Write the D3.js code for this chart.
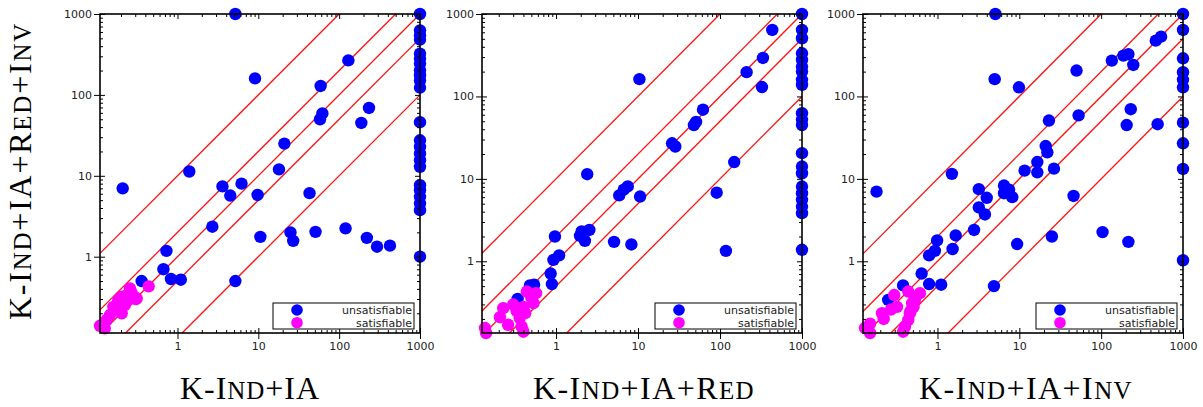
<!DOCTYPE html>
<html>
<head>
<meta charset="utf-8">
<script src="https://cdn.jsdelivr.net/npm/d3@7"></script>
<style>
body { margin: 0; background: #fff; }
</style>
</head>
<body>
<script>
// run times in seconds, [x, y]; x = 1000 means timeout of the x solver
var unsatIA = [[5.2, 1000], [9.1, 160], [130, 267], [59, 129], [62, 59], [58, 50], [234, 69], [188, 45],
    [21, 25], [18, 12], [1.4, 11.3], [0.21, 7.0], [3.6, 7.4], [6.2, 8.0], [4.5, 5.7], [9.8, 5.8], [43, 6.1],
    [2.7, 2.35], [10.6, 1.76], [25, 2.0], [27, 1.57], [51, 2.03], [120, 2.24], [220, 1.71], [294, 1.33],
    [425, 1.37], [0.73, 1.18], [0.67, 0.70], [0.36, 0.50], [0.83, 0.53], [1.1, 0.52], [5.2, 0.50],
    [1000, 1000], [1000, 628], [1000, 545], [1000, 482], [1000, 324], [1000, 281], [1000, 244], [1000, 201],
    [1000, 175], [1000, 151], [1000, 123], [1000, 46], [1000, 27.5], [1000, 22.7], [1000, 18.9], [1000, 15.6],
    [1000, 12.9], [1000, 7.66], [1000, 6.64], [1000, 5.5], [1000, 4.55], [1000, 3.76], [1000, 1.0]
]
var satIA = [[0.44, 0.43], [0.258, 0.406], [0.204, 0.32], [0.246, 0.29], [0.313, 0.305], [0.161, 0.24],
    [0.204, 0.20], [0.146, 0.19], [0.224, 0.253], [0.133, 0.165], [0.11, 0.14], [0.126, 0.13], [0.185, 0.29],
    [0.27, 0.36], [0.23, 0.33], [0.19, 0.22], [0.29, 0.32], [0.306, 0.30], [0.12, 0.136]
]

var unsatRed = [[10.4, 162], [434, 640], [334, 293], [211, 197], [325, 130], [62, 69], [51, 49], [48, 45],
    [26, 27], [28.5, 24.7], [149, 16], [2.4, 11.4], [91, 6.8], [7.5, 8.1], [6.7, 7.4], [5.9, 6.3], [10.6, 6.1],
    [0.97, 2.0], [2.05, 2.3], [1.96, 2.04], [2.55, 2.4], [2.25, 1.77], [5.1, 1.72], [8.3, 1.6], [1.09, 1.18],
    [0.93, 1.04], [0.86, 0.71], [0.89, 0.53], [0.54, 0.52], [0.48, 0.51], [0.34, 0.35], [118, 1.34],
    [1000, 1000], [1000, 640], [1000, 508], [1000, 334], [1000, 277], [1000, 230], [1000, 200], [1000, 159],
    [1000, 138], [1000, 62.6], [1000, 52], [1000, 45], [1000, 20.5], [1000, 14.1], [1000, 11.7], [1000, 8.07],
    [1000, 6.7], [1000, 5.57], [1000, 4.62], [1000, 3.84], [1000, 1.38]
]
var satRed = [[0.44, 0.43], [0.57, 0.41], [0.53, 0.31], [0.42, 0.235], [0.30, 0.30], [0.227, 0.27],
    [0.207, 0.21], [0.26, 0.17], [0.36, 0.205], [0.38, 0.162], [0.40, 0.14], [0.136, 0.155], [0.14, 0.135],
    [0.50, 0.36], [0.33, 0.25], [0.40, 0.28]
]

var unsatInv = [[5.1, 1000], [5.0, 162], [9.9, 129], [50, 206], [135, 272], [187, 313], [215, 325], [247, 241],
    [465, 475], [540, 531], [53, 59], [23, 51], [230, 70], [205, 45], [490, 46], [21, 25], [22, 21], [16.6, 16],
    [16.6, 12], [11.6, 12.6], [26.5, 13.3], [1.5, 11.5], [0.18, 7.0], [3.2, 7.5], [6.5, 8.3], [7.5, 7.4],
    [6.5, 6.7], [4.0, 5.9], [8.2, 6.0], [46, 6.2], [3.2, 4.5], [3.8, 3.7], [2.8, 2.4], [1.67, 2.06],
    [0.99, 1.79], [0.93, 1.34], [0.79, 1.18], [1.53, 1.41], [9.4, 1.62], [0.64, 0.71], [0.38, 0.51],
    [0.79, 0.53], [1.11, 0.52], [4.9, 0.50], [0.25, 0.34], [25, 2.0], [104, 2.26], [215, 1.72],
    [1000, 1000], [1000, 640], [1000, 290], [1000, 197], [1000, 159], [1000, 129], [1000, 48], [1000, 27],
    [1000, 13.2], [1000, 1.03]
]
var satInv = [[0.296, 0.39], [0.44, 0.43], [0.61, 0.41], [0.53, 0.34], [0.51, 0.28], [0.46, 0.235],
    [0.44, 0.195], [0.40, 0.16], [0.38, 0.14], [0.32, 0.28], [0.27, 0.26], [0.21, 0.235], [0.22, 0.20],
    [0.15, 0.175], [0.13, 0.155], [0.15, 0.135], [0.49, 0.31], [0.47, 0.25]
]

var majorTicks = [1, 10, 100, 1000]
var ratios = [10, 2, 1, 0.5, 0.1]          // red guide lines y = k * x
var legendLabels = ["unsatisfiable", "satisfiable"]
var xTitles = ["K-Ind+IA", "K-Ind+IA+Red", "K-Ind+IA+Inv"]
var yTitle = "K-Ind+IA+Red+Inv"

const width = 1203
const height = 407
const plotTop = 14
const plotW = 320
const plotH = 319
const colors = ["#0000ff", "#ff00ff"]

var panels = [
    { left: 100, xmin: 0.11, ymin: 0.114, unsat: unsatIA, sat: satIA, tx: 250, tlen: 140 },
    { left: 482, xmin: 0.125, ymin: 0.135, unsat: unsatRed, sat: satRed, tx: 644, tlen: 222 },
    { left: 863, xmin: 0.123, ymin: 0.135, unsat: unsatInv, sat: satInv, tx: 1026, tlen: 214 }
]

var svg = d3.select("body").append("svg").attr("width", width).attr("height", height)

function isMajor(d) {
    var l = Math.log10(d)
    return Math.abs(l - Math.round(l)) < 1e-6
}

// serif title with small caps for the lower-case runs
function title(g, str, size, len) {
    var t = g.append("text").attr("text-anchor", "middle")
        .style("font-family", "'Liberation Serif', serif").attr("font-size", size).attr("fill", "#000")
    str.match(/[a-z]+|[^a-z]+/g).forEach(function (r) {
        t.append("tspan").attr("font-size", /[a-z]/.test(r) ? size * 0.78 : size).text(r.toUpperCase())
    })
    var w = t.node().getComputedTextLength()
    t.attr("letter-spacing", (len - w) / str.length)
    return t
}

panels.forEach(function (p, i) {
    var x = d3.scaleLog().domain([p.xmin, 1000]).range([p.left, p.left + plotW])
    var y = d3.scaleLog().domain([p.ymin, 1000]).range([plotTop + plotH, plotTop])
    var minorX = x.ticks().filter((d) => !isMajor(d))
    var minorY = y.ticks().filter((d) => !isMajor(d))

    // guide lines y = k x, cut to the plot box
    var lineGen = d3.line().x((d) => x(d[0])).y((d) => y(d[1]))
    var guide = svg.append("g")
    ratios.forEach(function (k) {
        var x0 = Math.max(p.xmin, p.ymin / k)
        var x1 = Math.min(1000, 1000 / k)
        guide.append("path").attr("d", lineGen([[x0, k * x0], [x1, k * x1]]))
            .attr("fill", "none").attr("stroke", "#ff1010").attr("stroke-width", 1.3)
    })

    svg.append("g").selectAll("circle").data(p.unsat).enter().append("circle")
        .attr("cx", (d) => x(d[0])).attr("cy", (d) => y(d[1])).attr("r", 6.2).attr("fill", colors[0])
    svg.append("g").selectAll("circle").data(p.sat).enter().append("circle")
        .attr("cx", (d) => x(d[0])).attr("cy", (d) => y(d[1])).attr("r", 6.2).attr("fill", colors[1])

    var bottom = plotTop + plotH
    var right = p.left + plotW
    var axes = [
        [d3.axisBottom(x).tickValues(majorTicks).tickSize(6).tickPadding(3).tickFormat(d3.format("d")), 0, bottom],
        [d3.axisBottom(x).tickValues(majorTicks).tickSize(-5).tickFormat(""), 0, bottom],
        [d3.axisBottom(x).tickValues(minorX).tickSize(-3).tickFormat(""), 0, bottom],
        [d3.axisTop(x).tickValues(majorTicks).tickSize(-5).tickFormat(""), 0, plotTop],
        [d3.axisTop(x).tickValues(minorX).tickSize(-3).tickFormat(""), 0, plotTop],
        [d3.axisLeft(y).tickValues(majorTicks).tickSize(6).tickPadding(2).tickFormat(d3.format("d")), p.left, 0],
        [d3.axisLeft(y).tickValues(majorTicks).tickSize(-5).tickFormat(""), p.left, 0],
        [d3.axisLeft(y).tickValues(minorY).tickSize(-3).tickFormat(""), p.left, 0],
        [d3.axisRight(y).tickValues(majorTicks).tickSize(-5).tickFormat(""), right, 0],
        [d3.axisRight(y).tickValues(minorY).tickSize(-3).tickFormat(""), right, 0]
    ]
    axes.forEach(function (a) {
        var g = svg.append("g").attr("transform", "translate(" + a[1] + "," + a[2] + ")").call(a[0])
        g.select(".domain").remove()
        g.selectAll(".tick line").attr("stroke", "#000")
        g.selectAll("text").attr("font-family", "'DejaVu Sans', sans-serif").attr("font-size", 11).attr("fill", "#222")
    })

    svg.append("rect").attr("x", p.left).attr("y", plotTop).attr("width", plotW).attr("height", plotH)
        .attr("fill", "none").attr("stroke", "#000").attr("stroke-width", 1.6)

    // legend
    var lx = right - 6 - 141
    var ly = bottom - 4 - 26
    var leg = svg.append("g")
    leg.append("rect").attr("x", lx).attr("y", ly).attr("width", 141).attr("height", 26)
        .attr("fill", "#fff").attr("stroke", "#000").attr("stroke-width", 1)
    legendLabels.forEach(function (lab, j) {
        var cy = ly + 7 + j * 12.7
        leg.append("circle").attr("cx", lx + 24).attr("cy", cy).attr("r", 5.8).attr("fill", colors[j])
        leg.append("text").attr("x", lx + 139).attr("y", cy + 4).attr("text-anchor", "end")
            .attr("font-family", "'DejaVu Sans', sans-serif").attr("font-size", 11).attr("fill", "#222").text(lab)
    })

    var tg = svg.append("g").attr("transform", "translate(" + p.tx + ",399)")
    title(tg, xTitles[i], 32, p.tlen)
})

var yg = svg.append("g").attr("transform", "translate(31,171) rotate(-90)")
title(yg, yTitle, 32, 298)
</script>
</body>
</html>
